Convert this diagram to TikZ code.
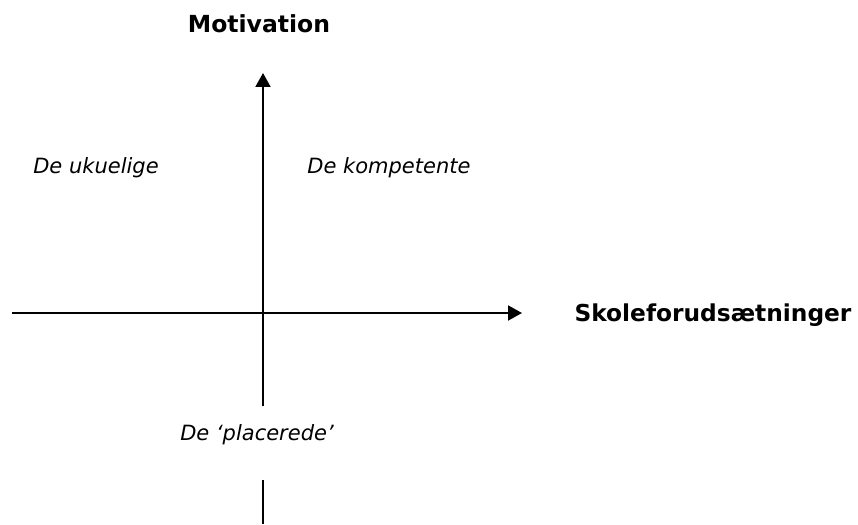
\documentclass[tikz,border=0pt]{standalone}
\usepackage{fontspec}
\setmainfont{DejaVu Sans}
\usetikzlibrary{arrows.meta}
\begin{document}
\begin{tikzpicture}[x=1pt, y=-1pt, >={Triangle[length=14pt,width=15pt]}]
        \useasboundingbox (0,0) rectangle (858,524);

        % --- Akser ---
        \coordinate (O) at (263,313);
        \coordinate (Xa) at (12,313);
        \coordinate (Xb) at (522,313);
        \coordinate (Ya) at (263,406);
        \coordinate (Yb) at (263,73);
        \coordinate (Yc) at (263,480);
        \coordinate (Yd) at (263,524);
        \draw[line width=2pt, ->] (Xa) -- (Xb);
        \draw[line width=2pt, ->] (Ya) -- (Yb);
        \draw[line width=2pt] (Yc) -- (Yd);

        % --- Aksetitler ---
        \node[font=\fontsize{23.5}{28}\selectfont\bfseries, anchor=base] (mot) at (259,33) {Motivation};
        \node[font=\fontsize{23.3}{28}\selectfont\bfseries, anchor=base] (skole) at (713,321) {Skoleforudsætninger};

        % --- Grupper ---
        \node[font=\fontsize{21}{25}\selectfont\itshape, anchor=base] (ukuel) at (96,173) {De ukuelige};
        \node[font=\fontsize{21}{25}\selectfont\itshape, anchor=base] (komp) at (389,173) {De kompetente};
        \node[font=\fontsize{21}{25}\selectfont\itshape, anchor=base] (plac) at (257,440) {De ‘placerede’};
\end{tikzpicture}
\end{document}
